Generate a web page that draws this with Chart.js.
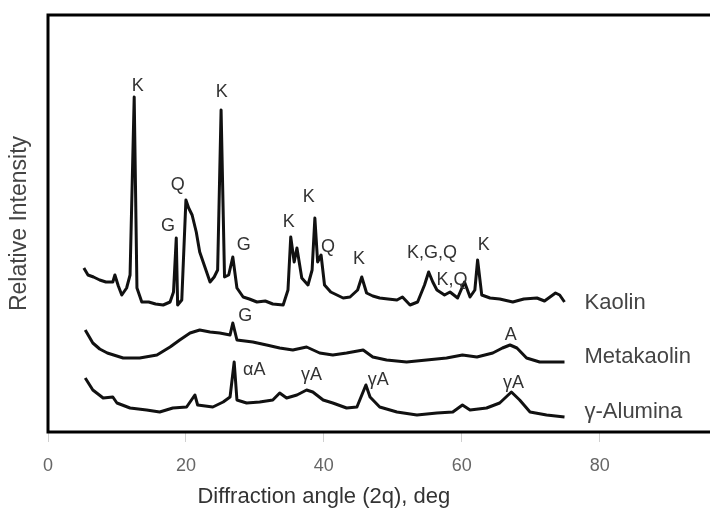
<!DOCTYPE html>
<html>
<head>
<meta charset="utf-8">
<script src="https://cdn.jsdelivr.net/npm/chart.js@4/dist/chart.umd.min.js"></script>
<style>
html,body{margin:0;padding:0;background:#fff;overflow:hidden;}
canvas{display:block;}
</style>
</head>
<body>
<canvas id="c" width="710" height="512"></canvas>
<script>
// ---- data (x = 2θ in degrees, y = relative intensity, arbitrary units) ----
const kaolinDeg = [5.2,5.8,6.6,7.5,8.4,9.4,9.7,10.2,10.7,11.4,11.9,12.5,12.9,13.6,14.6,15.6,16.7,17.7,18.2,18.6,18.8,19.4,20.0,20.4,20.9,21.5,22.0,23.0,23.5,24.1,24.6,25.1,25.6,26.2,26.8,27.4,28.3,29.2,30.3,31.5,32.6,34.1,34.8,35.2,35.7,36.1,36.8,37.7,38.3,38.7,39.1,39.6,40.1,41.0,41.9,42.8,43.8,44.9,45.5,46.2,47.1,48.1,49.3,50.6,51.4,52.5,53.6,54.6,55.2,55.8,56.4,57.5,58.3,59.4,60.4,61.2,61.9,62.3,62.9,64.1,65.5,67.4,69.0,70.9,72.0,72.8,73.6,74.2,74.9];
const kaolin    = [164,157,155,152,150,150,157,146,137,144,157,335,144,130,130,128,127,130,140,194,127,132,232,224,217,200,180,160,150,155,162,322,155,157,175,144,135,133,130,131,128,127,142,195,170,184,154,147,162,214,170,177,147,140,137,134,135,142,155,139,136,134,133,132,135,127,130,147,160,150,142,137,140,134,150,135,142,172,137,134,133,130,133,134,131,135,139,137,130];

const metaDeg    = [5.4,6.5,7.5,8.6,10.9,13.3,15.8,17.7,19.1,20.6,22.0,23.5,24.9,26.4,26.8,27.4,29.7,31.7,33.6,35.5,37.5,39.4,41.3,43.3,45.7,47.1,49.1,52.0,54.9,57.8,60.1,62.2,64.5,65.9,67.0,68.0,69.4,71.3,74.2,74.9];
const metakaolin = [102,89,83,79,74,74,77,85,92,99,102,100,99,97,109,92,90,87,84,82,85,79,77,79,82,75,72,70,72,74,77,75,79,84,87,84,74,70,70,70];

const aluminaDeg = [5.4,6.5,8.0,9.4,10.0,11.9,14.3,16.2,18.1,20.1,21.3,21.7,23.9,25.4,26.4,27.0,27.4,28.8,30.7,32.6,33.6,34.6,36.1,37.5,38.4,39.9,41.3,43.3,44.8,46.1,46.7,48.1,50.6,53.5,56.4,58.7,60.1,61.2,63.6,65.5,67.2,68.4,69.9,72.3,74.9];
const alumina    = [54,42,34,35,29,24,22,20,24,25,37,27,25,30,35,70,32,29,30,32,39,34,37,42,40,32,29,24,25,47,35,25,20,17,19,20,27,22,24,29,40,32,20,17,15];

const seriesNames = ["Kaolin","Metakaolin","\u03B3-Alumina"];
const seriesNameLevel = [129, 75, 20];
const seriesNameDeg = 77.8;

const peakText  = ["K","K","Q","G","G","K","K","Q","K","K,G,Q","K,Q","K","G","A","\u03B1A","\u03B3A","\u03B3A","\u03B3A"];
const peakDeg   = [13.0,25.2,18.8,17.4,28.4,34.9,37.8,40.6,45.1,55.7,58.6,63.2,28.6,67.1,29.9,38.2,47.9,67.5];
const peakLevel = [346,340,247,206,187,210,235,185,173,179,152,187,116,97,62,57,52,49];

const xTickStep = 20;
const xMin = 0, xMax = 96;
const xTitle = 'Diffraction angle (2q), deg';
const xTitleCenterDeg = 40;

function pts(xs, ys){ return xs.map((x,i)=>({x:x, y:ys[i]})); }
const FONT = '"Liberation Sans", Arial, sans-serif';

const textPlugin = {
  id:'texts',
  afterDatasetsDraw(chart){
    const ctx = chart.ctx, a = chart.chartArea;
    const xs = chart.scales.x, ys = chart.scales.y;
    ctx.save();
    // plot frame (left, top, bottom; the right side runs off the picture)
    ctx.strokeStyle = '#000';
    ctx.lineWidth = 3;
    ctx.beginPath();
    ctx.moveTo(a.right + 5, a.top);
    ctx.lineTo(a.left, a.top);
    ctx.lineTo(a.left, a.bottom);
    ctx.lineTo(a.right + 5, a.bottom);
    ctx.stroke();
    // peak labels
    ctx.fillStyle = '#333';
    ctx.font = '18px ' + FONT;
    ctx.textAlign = 'center';
    ctx.textBaseline = 'middle';
    peakText.forEach((t,i)=>{
      ctx.fillText(t, xs.getPixelForValue(peakDeg[i]), ys.getPixelForValue(peakLevel[i]));
    });
    // series names
    ctx.fillStyle = '#444';
    ctx.font = '22px ' + FONT;
    ctx.textAlign = 'left';
    seriesNames.forEach((t,i)=>{
      ctx.fillText(t, xs.getPixelForValue(seriesNameDeg), ys.getPixelForValue(seriesNameLevel[i]));
    });
    // x axis title
    ctx.fillStyle = '#333';
    ctx.font = '22px ' + FONT;
    ctx.textAlign = 'center';
    ctx.fillText(xTitle, xs.getPixelForValue(xTitleCenterDeg), xs.bottom - 15);
    ctx.restore();
  }
};

const lineStyle = {borderColor:'#111', borderWidth:3, pointRadius:0, tension:0, fill:false, borderJoinStyle:'round'};

new Chart(document.getElementById('c'), {
  type:'line',
  data:{
    datasets:[
      Object.assign({label:seriesNames[0], data:pts(kaolinDeg, kaolin)}, lineStyle),
      Object.assign({label:seriesNames[1], data:pts(metaDeg, metakaolin)}, lineStyle),
      Object.assign({label:seriesNames[2], data:pts(aluminaDeg, alumina)}, lineStyle)
    ]
  },
  options:{
    responsive:false,
    animation:false,
    layout:{padding:{top:15,right:0,bottom:0,left:0}},
    plugins:{legend:{display:false}, tooltip:{enabled:false}},
    scales:{
      x:{
        type:'linear', min:xMin, max:xMax,
        afterFit(s){ s.height = 80; },
        border:{display:false},
        grid:{display:true, drawOnChartArea:false, drawTicks:true, tickLength:10, tickColor:'#d0d0d0'},
        ticks:{stepSize:xTickStep, includeBounds:false, color:'#666', padding:13, maxRotation:0,
               font:{family:FONT, size:18}},
        title:{display:false}
      },
      y:{
        min:0, max:417,
        afterFit(s){ s.width = 48; },
        border:{display:false},
        grid:{display:false},
        ticks:{display:false},
        title:{display:true, text:'Relative Intensity', color:'#444',
               font:{family:FONT, size:23}, padding:{top:6,bottom:0}}
      }
    }
  },
  plugins:[textPlugin]
});
</script>
</body>
</html>
